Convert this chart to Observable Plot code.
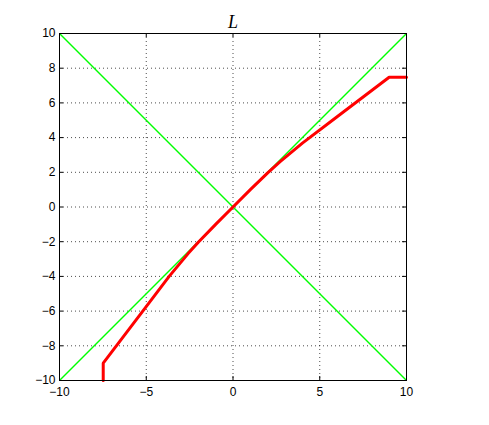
<!DOCTYPE html>
<html>
<head>
<meta charset="utf-8">
<script src="https://cdn.jsdelivr.net/npm/d3@7"></script>
<script src="https://cdn.jsdelivr.net/npm/@observablehq/plot@0.6"></script>
<style>
  html, body { margin: 0; padding: 0; background: #fff; }
</style>
</head>
<body>
<div id="chart"></div>
<script>
const titleText = "L";
const xTicks = [-10, -5, 0, 5, 10];
const yTicks = [-10, -8, -6, -4, -2, 0, 2, 4, 6, 8, 10];
const greenX1 = [-10, -10];
const greenY1 = [-10, 10];
const greenX2 = [10, 10];
const greenY2 = [10, -10];
const redX = [-7.48, -7.48, -5.2, -3.68, -2.6, -2, -1, 0, 1, 2, 2.7, 4, 6, 9, 10];
const redY = [-10, -9, -6, -4, -2.7, -2.03, -1, 0, 1, 1.97, 2.6, 3.68, 5.2, 7.48, 7.48];

const greenData = greenX1.map((x1, i) => ({x1, y1: greenY1[i], x2: greenX2[i], y2: greenY2[i]}));
const redData = redX.map((x, i) => ({x, y: redY[i]}));

const W = 489, H = 425;
const mL = 59, mR = 83, mT = 33, mB = 45;
const frameH = H - mT - mB;
const frameW = W - mL - mR;
const tickLen = 4;
const fmt = d => d < 0 ? "\u2212" + (-d) : String(d);

const chart = Plot.plot({
  width: W,
  height: H,
  marginLeft: mL,
  marginRight: mR,
  marginTop: mT,
  marginBottom: mB,
  style: {fontFamily: "'Liberation Sans', Helvetica, Arial, sans-serif", fontSize: "12px", color: "#000", background: "#fff"},
  x: {domain: [-10, 10]},
  y: {domain: [-10, 10]},
  marks: [
    Plot.gridX(xTicks, {stroke: "#000", strokeOpacity: 0.7, strokeDasharray: "1,3"}),
    Plot.gridY(yTicks, {stroke: "#000", strokeOpacity: 0.7, strokeDasharray: "1,3"}),
    Plot.link(greenData, {x1: "x1", y1: "y1", x2: "x2", y2: "y2", stroke: "#00ff00", strokeWidth: 1.5}),
    Plot.line(redData, {x: "x", y: "y", stroke: "#ff0000", strokeWidth: 3, strokeLinejoin: "miter"}),
    Plot.frame({stroke: "#000", strokeWidth: 1}),
    Plot.tickX(xTicks, {x: d => d, insetTop: frameH - tickLen, stroke: "#000"}),
    Plot.tickX(xTicks, {x: d => d, insetBottom: frameH - tickLen, stroke: "#000"}),
    Plot.tickY(yTicks, {y: d => d, insetRight: frameW - tickLen, stroke: "#000"}),
    Plot.tickY(yTicks, {y: d => d, insetLeft: frameW - tickLen, stroke: "#000"}),
    Plot.axisX({ticks: xTicks, tickSize: 0, tickPadding: 7, tickFormat: fmt, label: null}),
    Plot.axisY({ticks: yTicks, tickSize: 0, tickPadding: 4, tickFormat: fmt, label: null}),
    Plot.text([titleText], {text: d => d, frameAnchor: "top", dy: -18, fontSize: 18, fontStyle: "italic", fontFamily: "'Liberation Serif', 'Times New Roman', serif", fill: "#000"})
  ]
});
document.getElementById("chart").appendChild(chart);
</script>
</body>
</html>
